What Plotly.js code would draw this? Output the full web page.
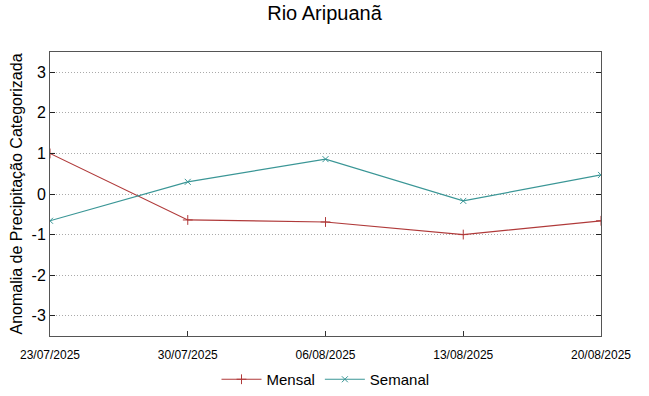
<!DOCTYPE html>
<html><head><meta charset="utf-8">
<script src="https://cdn.plot.ly/plotly-3.0.1.min.js"></script>
<style>body{margin:0;background:#fff}#c{width:649px;height:396px}</style>
</head><body><div id="c"></div>
<script>
const dates = ["2025-07-23","2025-07-30","2025-08-06","2025-08-13","2025-08-20"];
const tickLabels = ["23/07/2025","30/07/2025","06/08/2025","13/08/2025","20/08/2025"];
const mensal = [1.0, -0.64, -0.69, -1.0, -0.66];
const semanal = [-0.66, 0.30, 0.86, -0.17, 0.47];
const yTicks = [-3,-2,-1,0,1,2,3];
const yTickLabels = ["-3","-2","-1","0","1","2","3"];

const traces = [
  {x: dates, y: mensal, name: "Mensal", type: "scatter", mode: "lines+markers",
   line: {color: "#b03a3a", width: 1.2}, marker: {symbol: "cross-thin", size: 7, line: {color: "#b03a3a", width: 1}}},
  {x: dates, y: semanal, name: "Semanal", type: "scatter", mode: "lines+markers",
   line: {color: "#3a9696", width: 1.2}, marker: {symbol: "x-thin", size: 6, line: {color: "#3a9696", width: 1}}}
];
const layout = {
  width: 649, height: 396,
  margin: {l: 50, r: 48, t: 52, b: 60, autoexpand: false},
  paper_bgcolor: "#fff", plot_bgcolor: "#fff",
  font: {family: "Liberation Sans, Arial, sans-serif", color: "#000"},
  title: {text: "Rio Aripuanã", x: 0.5, xanchor: "center", y: 0.985, yanchor: "top", font: {size: 20, color: "#000"}},
  xaxis: {type: "date", range: [dates[0], dates[dates.length-1]], tickvals: dates, ticktext: tickLabels,
    showgrid: false, zeroline: false, showline: true, mirror: true, linecolor: "#555", linewidth: 1,
    ticks: "inside", ticklen: 5, tickcolor: "#333", ticklabelstandoff: 8,
    tickfont: {size: 12, family: "Liberation Sans Narrow, Arial Narrow, sans-serif"}},
  yaxis: {range: [-3.5, 3.5], tickvals: yTicks, ticktext: yTickLabels, ticks: "inside", ticklen: 5, tickcolor: "#222",
    showgrid: true, gridcolor: "#aaa", griddash: "1px,2px", gridwidth: 1, zeroline: false,
    showline: true, mirror: "ticks", linecolor: "#555", linewidth: 1,
    tickfont: {size: 16},
    title: {text: "Anomalia de Precipitação Categorizada", font: {size: 16}, standoff: 4}},
  legend: {orientation: "h", x: 0.5, xanchor: "center", yref: "container", y: 0.0, yanchor: "bottom",
    font: {size: 15, family: "Liberation Sans Narrow, Arial Narrow, sans-serif"}, itemwidth: 40},
  showlegend: true
};
Plotly.newPlot("c", traces, layout, {displayModeBar: false});
</script></body></html>
